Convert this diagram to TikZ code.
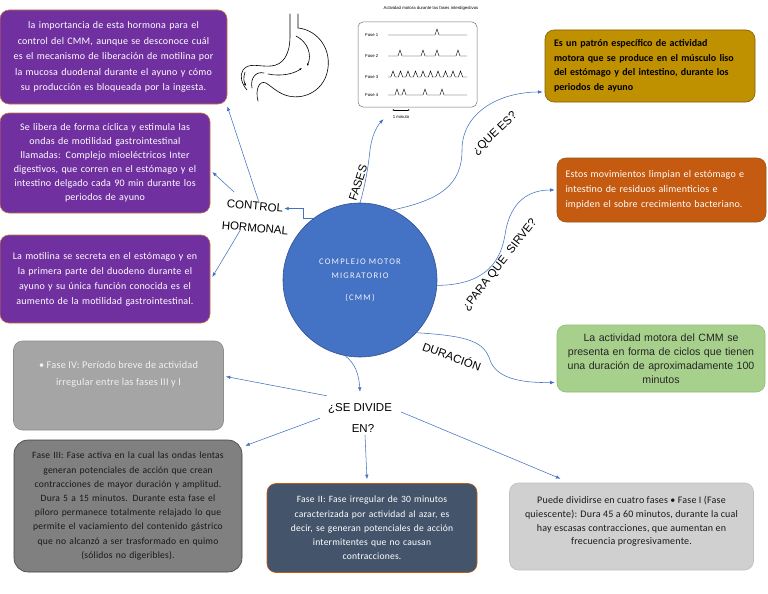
\documentclass[tikz,border=0pt]{standalone}
\usepackage{fontspec}
\setmainfont{Carlito}
\newfontfamily\arialf{Liberation Sans}
\newfontfamily\calsp{Carlito}[LetterSpace=2]
\newfontfamily\calwide{Carlito}[LetterSpace=14]
\usetikzlibrary{arrows.meta,calc}
\definecolor{cpurple}{HTML}{7030A0}
\definecolor{cpurpleline}{HTML}{C9743F}
\definecolor{cgold}{HTML}{BF9000}
\definecolor{cgoldline}{HTML}{7F6000}
\definecolor{corange}{HTML}{C55A11}
\definecolor{corangeline}{HTML}{8F5A1A}
\definecolor{cgreen}{HTML}{A8D08D}
\definecolor{cgreenline}{HTML}{8FBC6E}
\definecolor{cblue}{HTML}{4472C4}
\definecolor{cblueline}{HTML}{2F528F}
\definecolor{cgrayA}{HTML}{A5A5A5}
\definecolor{cgrayAline}{HTML}{8C8C8C}
\definecolor{cgrayB}{HTML}{808080}
\definecolor{cgrayBline}{HTML}{404040}
\definecolor{cnavy}{HTML}{44546A}
\definecolor{cgrayC}{HTML}{D0D0D0}
\definecolor{cgrayCline}{HTML}{BFBFBF}
\definecolor{ctextA}{HTML}{F0F0F0}
\begin{document}
\begin{tikzpicture}[x=1pt,y=-1pt,
  box/.style={rounded corners=9pt, align=center, inner sep=3pt, line width=0.6pt},
  boxtext/.style={font=\calsp\fontsize{10}{15.5}\selectfont},
  lbl/.style={font=\arialf\fontsize{11.5}{13}\selectfont, inner sep=1pt},
  conn/.style={draw=cblue, line width=0.55pt, -{Latex[length=4.5pt,width=3.5pt]}},
  tiny/.style={font=\arialf\fontsize{4.3}{5}\selectfont, inner sep=0pt},
  trace/.style={line width=0.45pt, black}]
\useasboundingbox (0,0) rectangle (768,594);
\fill[white] (0,0) rectangle (768,594);

% purple boxes
\node[box, boxtext, fill=cpurple, draw=cpurpleline, text=white, minimum width=227pt, minimum height=94pt, text width=220pt] (b1) at (113.5,57)
 {la importancia de esta hormona para el\\ control del CMM, aunque se desconoce cuál\\ es el mecanismo de liberación de motilina por\\ la mucosa duodenal durante el ayuno y cómo\\ su producción es bloqueada por la ingesta.};
\node[box, font=\calsp\fontsize{10}{14}\selectfont, fill=cpurple, draw=cpurpleline, text=white, minimum width=210pt, minimum height=100pt, text width=204pt] (b2) at (105,163)
 {Se libera de forma cíclica y estimula las\\ ondas de motilidad gastrointestinal\\ llamadas: Complejo mioeléctricos Inter\\ digestivos, que corren en el estómago y el\\ intestino delgado cada 90 min durante los\\ periodos de ayuno};
\node[box, font=\calsp\fontsize{10}{15}\selectfont, fill=cpurple, draw=cpurpleline, text=white, minimum width=210pt, minimum height=88pt, text width=204pt] (b3) at (105,279)
 {La motilina se secreta en el estómago y en\\ la primera parte del duodeno durante el\\ ayuno y su única función conocida es el\\ aumento de la motilidad gastrointestinal.};

% right boxes
\node[box, font=\bfseries\fontsize{10}{14.5}\selectfont, fill=cgold, draw=cgoldline, text=black, minimum width=210pt, minimum height=72pt, text width=192pt, align=left] (gold) at (650,66)
 {Es un patrón específico de actividad\\ motora que se produce en el músculo liso\\ del estómago y del intestino, durante los\\ periodos de ayuno};
\node[box, font=\calsp\fontsize{10}{15}\selectfont, fill=corange, draw=corangeline, text=white, minimum width=209pt, minimum height=64pt, text width=192pt, align=left] (orange) at (661.5,190)
 {Estos movimientos limpian el estómago e\\ intestino de residuos alimenticios e\\ impiden el sobre crecimiento bacteriano.};
\node[box, font=\arialf\fontsize{10.6}{14}\selectfont, fill=cgreen, draw=cgreenline, text=black!85, minimum width=208pt, minimum height=67pt, text width=200pt] (green) at (661,358.5)
 {La actividad motora del CMM se\\ presenta en forma de ciclos que tienen\\ una duración de aproximadamente 100\\ minutos};

% central circle
\node[circle, fill=cblue, draw=cblueline, line width=0.6pt, minimum size=154pt, text=white!92!cblue, align=center, font=\calwide\fontsize{8.6}{14}\selectfont] (cmm) at (360,280)
 {COMPLEJO MOTOR\\ MIGRATORIO\\[8pt] (CMM)};

% bottom boxes
\node[box, fill=cgrayA, draw=cgrayAline, text=ctextA, minimum width=210pt, minimum height=89pt] (g4) at (118.5,385.5)
 {\parbox[c][83pt][t]{200pt}{\calsp\fontsize{10.3}{17}\selectfont\centering\rule{0pt}{24pt}• Fase IV: Período breve de actividad\\ irregular entre las fases III y I}};
\node[box, font=\calsp\fontsize{9.6}{14.2}\selectfont, fill=cgrayB, draw=cgrayBline, text=black!90, minimum width=228pt, minimum height=132pt, text width=222pt, rounded corners=14pt] (g3) at (128,506)
 {Fase III: Fase activa en la cual las ondas lentas\\ generan potenciales de acción que crean\\ contracciones de mayor duración y amplitud.\\ Dura 5 a 15 minutos. Durante esta fase el\\ píloro permanece totalmente relajado lo que\\ permite el vaciamiento del contenido gástrico\\ que no alcanzó a ser trasformado en quimo\\ (sólidos no digeribles).};
\node[box, font=\calsp\fontsize{9.6}{14.3}\selectfont, fill=cnavy, draw=corange, text=white, minimum width=209pt, minimum height=89pt, text width=204pt] (navy) at (372,528)
 {Fase II: Fase irregular de 30 minutos\\ caracterizada por actividad al azar, es\\ decir, se generan potenciales de acción\\ intermitentes que no causan\\ contracciones.};
\node[box, fill=cgrayC, draw=cgrayCline, text=black!90, minimum width=243pt, minimum height=87pt] (lgray) at (631.5,526.5)
 {\parbox[c][81pt][t]{238pt}{\calsp\fontsize{10}{13.8}\selectfont\centering\rule{0pt}{17.5pt}Puede dividirse en cuatro fases • Fase I (Fase\\ quiescente): Dura 45 a 60 minutos, durante la cual\\ hay escasas contracciones, que aumentan en\\ frecuencia progresivamente.}};

% labels
\node[lbl, rotate=-5] (control) at (255,206) {CONTROL};
\node[lbl, rotate=-5] (hormonal) at (255,228) {HORMONAL};
\node[lbl, rotate=72] (fases) at (358,183) {FASES};
\node[lbl, rotate=44] (quees) at (495,134) {¿QUE ES?};
\node[lbl, rotate=52] (parasirve) at (500,265) {¿PARA QUE\ \ SIRVE?};
\node[lbl, rotate=-20] (duracion) at (452,356) {DURACIÓN};
\node[lbl] (sedivide) at (360,408) {¿SE DIVIDE};
\node[lbl] (en) at (363,428) {EN?};

% chart
\node[tiny] (charttitle) at (431,8) {Actividad motora durante las fases interdigestivas};
\node[draw=black!55, line width=0.5pt, rounded corners=5pt, minimum width=119pt, minimum height=85pt, inner sep=0pt] (chart) at (417.5,64.5) {};
\node[tiny, anchor=west] (f1) at (365,35) {Fase 1};
\node[tiny, anchor=west] (f2) at (365,56) {Fase 2};
\node[tiny, anchor=west] (f3) at (365,77) {Fase 3};
\node[tiny, anchor=west] (f4) at (365,95) {Fase 4};
\draw[trace] (388,35) \foreach \s in {437} { -- (\s-2,35) -- (\s,29) -- (\s+2,35) } -- (467,35);
\draw[trace] (388,56) \foreach \s in {400,423,437,458} { -- (\s-2,56) -- (\s,50) -- (\s+2,56) } -- (467,56);
\draw[trace] (388,77) \foreach \s in {393,400.5,408,415.5,423,430.5,438,445.5,453,460.5} { -- (\s-2.2,77) -- (\s,71) -- (\s+2.2,77) } -- (467,77);
\draw[trace] (388,95) \foreach \s in {397,404,425,442} { -- (\s-2,95) -- (\s,89) -- (\s+2,95) } -- (467,95);
\coordinate (minA) at (392,110);
\coordinate (minB) at (410,110);
\draw[line width=0.45pt, {Latex[length=2pt,width=1.6pt]}-{Latex[length=2pt,width=1.6pt]}] (minA) -- (minB);
\node[tiny] (minuto) at (401,117) {1 minuto};

% stomach
\begin{scope}[line width=0.6pt, black, line cap=round]
\draw (298,14) -- (298,28) .. controls (318,30) and (333,50) .. (327,73) .. controls (322,92) and (302,101) .. (285,95) .. controls (277,92) and (272,87) .. (266,83) .. controls (259,80) and (255,90) .. (258,101);
\draw (290,14) -- (290,36) .. controls (290,55) and (283,65) .. (271,66) .. controls (259,67) and (249,62) .. (243,70) .. controls (239,76) and (242,84) .. (247,90);
\draw (264,73) .. controls (256,71) and (250,78) .. (252,88);
\draw[-{Latex[length=2.5pt,width=2pt]}] (268,74) .. controls (283,77) and (295,73) .. (302,68);
\draw[-{Latex[length=2.5pt,width=2pt]}] (296,36) .. controls (308,42) and (312,55) .. (307,66);
\draw[-{Latex[length=2.5pt,width=2pt]}] (245,72) .. controls (243,78) and (244,82) .. (246,86);
\end{scope}

% connectors
\draw[conn] (cmm.127) -- ++(-10,0) |- (control.east);
\draw[conn] ([xshift=3pt]control.north) -- ([yshift=-2pt]b1.south east);
\draw[conn] ([xshift=8pt,yshift=6pt]control.north west) -- ([xshift=2pt,yshift=-9pt]b2.east);
\draw[conn] ([xshift=20pt]hormonal.south west) -- ([xshift=2pt,yshift=2pt]b3.east);
\draw[conn] (cmm.north) .. controls (364,190) and (368,170) .. (370,150) .. controls (372,135) and (377,126) .. ([xshift=-34pt,yshift=-12pt]chart.south);
\draw[conn] (cmm.65) .. controls (440,200) and (462,185) .. (462,150) .. controls (462,112) and (500,92) .. ([xshift=-2pt,yshift=-26pt]gold.west);
\draw[conn] (cmm.-4) .. controls (482,285) and (500,265) .. (505,235) .. controls (510,200) and (530,190) .. ([xshift=-2pt]orange.west);
\draw[conn] (cmm.-43) .. controls (470,336) and (484,342) .. (490,360) .. controls (496,378) and (520,383) .. ([xshift=-2pt,yshift=-24pt]green.west);
\draw[conn] (cmm.-101) .. controls (356,364) and (359,376) .. ([yshift=10pt]sedivide.north);
\draw[conn] ([yshift=6pt]sedivide.north west) -- ([xshift=2pt,yshift=9pt]g4.east);
\draw[conn] ([xshift=-7pt,yshift=-4pt]sedivide.south west) -- ([xshift=3pt,yshift=-6pt]g3.north east);
\draw[conn] ([xshift=2pt,yshift=-2pt]en.south) -- ([xshift=-5pt,yshift=4pt]navy.north);
\draw[conn] ([xshift=8pt,yshift=-4pt]sedivide.east) -- ([xshift=-71pt,yshift=4pt]lgray.north);
\end{tikzpicture}
\end{document}
